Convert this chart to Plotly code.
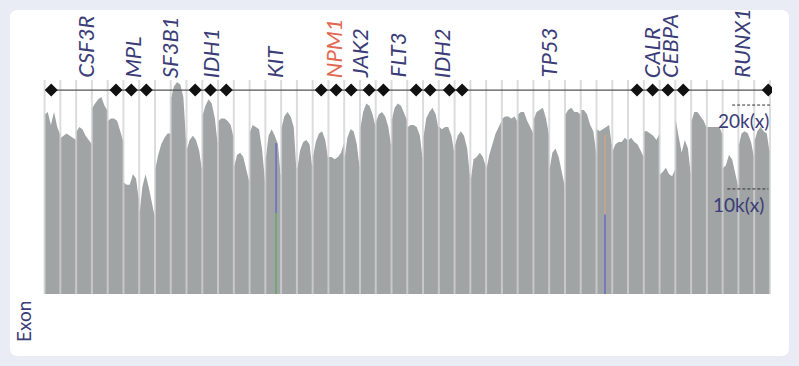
import plotly.graph_objects as go

# ---------------- data ----------------
# relative read depth (0-100 of panel height) sampled at fractions of each exon
sample_frac = [0.04, 0.2, 0.4, 0.6, 0.8, 0.96]
coverage = [
    [84, 85, 79, 85, 78, 75],   # 0
    [73, 74, 75, 74, 73, 72],
    [76, 78, 77, 74, 72, 70],
    [87, 89, 91, 92, 88, 86],
    [81, 82, 82, 81, 76, 71],
    [52, 51, 51, 56, 54, 45],   # 5
    [39, 50, 56, 50, 42, 37],
    [59, 65, 70, 73, 75, 75],
    [92, 97, 99, 98, 92, 73],
    [68, 72, 74, 72, 67, 59],
    [84, 88, 91, 89, 82, 71],   # 10
    [81, 82, 82, 81, 79, 74],
    [60, 65, 66, 64, 57, 53],
    [76, 79, 78, 77, 67, 51],
    [64, 74, 77, 74, 70, 56],
    [78, 83, 85, 83, 78, 59],   # 15
    [59, 67, 71, 72, 70, 60],
    [65, 71, 75, 76, 72, 64],
    [64, 64, 63, 64, 66, 71],
    [64, 73, 77, 76, 70, 60],
    [78, 85, 89, 88, 84, 79],   # 20
    [81, 84, 85, 83, 78, 70],
    [82, 87, 89, 88, 84, 81],
    [78, 79, 79, 78, 74, 64],
    [74, 82, 85, 87, 84, 78],
    [78, 77, 78, 78, 74, 67],   # 25
    [70, 74, 76, 74, 68, 56],
    [54, 63, 64, 66, 64, 60],
    [59, 65, 70, 75, 78, 81],
    [82, 83, 83, 82, 83, 81],
    [84, 85, 85, 81, 78, 75],   # 30
    [82, 85, 86, 87, 82, 74],
    [59, 66, 68, 64, 57, 50],
    [84, 86, 87, 85, 85, 84],
    [86, 86, 84, 79, 76, 65],
    [77, 76, 77, 78, 79, 70],   # 35
    [67, 70, 71, 71, 73, 72],
    [72, 73, 71, 70, 67, 64],
    [76, 76, 75, 74, 72, 75],
    [56, 57, 59, 56, 55, 58],
    [81, 74, 66, 72, 68, 57],   # 40
    [81, 85, 85, 83, 81, 78],
    [78, 78, 78, 78, 78, 75],
    [59, 60, 65, 63, 56, 51],
    [70, 75, 76, 75, 71, 65],
    [72, 76, 78, 76, 75, 67],   # 45
]

genes = ["CSF3R", "MPL", "SF3B1", "IDH1", "KIT", "NPM1", "JAK2",
         "FLT3", "IDH2", "TP53", "CALR", "CEBPA", "RUNX1"]
gene_pos = [2.55, 5.55, 7.9, 10.5, 14.55, 18.3, 19.95,
            22.35, 25.15, 31.9, 38.5, 39.6, 44.15]
gene_highlight = ["NPM1"]

# amplicon/target markers along the top track (exon units)
diamond_pos = [0.42, 4.53, 5.50, 6.45, 9.55, 10.52, 11.52, 17.54, 18.49, 19.44,
               20.58, 21.49, 23.56, 24.45, 25.67, 26.48, 37.57, 38.56, 39.53,
               40.50, 45.89]
diamond_level = 95.3

# variant marks: position (exon units), top, split level, colors
var_x = [14.68, 35.54]
var_top = [70.6, 74.4]
var_split = [37.9, 37.1]
var_upper_color = ["#6c70c2", "#c9a688"]
var_lower_color = ["#6aa66a", "#6c70c2"]

ref_levels = [88.3, 49.1]
ref_labels = ["20k(x)", "10k(x)"]
ref_x0 = [43.6, 43.3]
ref_x1 = [46.0, 45.9]
ref_label_x = [46.05, 45.75]
ref_label_y = [81.0, 42.0]

n_exons = len(coverage)

# ---------------- figure ----------------
fig = go.Figure()

xs, ys = [], []
for c, vals in enumerate(coverage):
    xs.append(c)
    ys.append(vals[0])
    for f, v in zip(sample_frac, vals):
        xs.append(c + f)
        ys.append(v)
    xs.append(c + 1)
    ys.append(vals[-1])

fig.add_trace(go.Scatter(
    x=xs, y=ys, mode="lines", fill="tozeroy",
    line=dict(width=0, color="#a0a4a4"), fillcolor="#a0a4a4",
    hoverinfo="skip", showlegend=False))

# exon separators
sx, sy = [], []
for b in range(n_exons + 1):
    sx += [b, b, None]
    sy += [0, 100, None]
fig.add_trace(go.Scatter(
    x=sx, y=sy, mode="lines",
    line=dict(width=2, color="rgba(210,210,210,0.78)"),
    hoverinfo="skip", showlegend=False))

# variant lines
for vx, vt, vs, cu, cl in zip(var_x, var_top, var_split, var_upper_color, var_lower_color):
    fig.add_trace(go.Scatter(x=[vx, vx], y=[vs, vt], mode="lines",
                             line=dict(width=1.6, color=cu), showlegend=False, hoverinfo="skip"))
    fig.add_trace(go.Scatter(x=[vx, vx], y=[0, vs], mode="lines",
                             line=dict(width=1.6, color=cl), showlegend=False, hoverinfo="skip"))

# diamond track
fig.add_trace(go.Scatter(x=[diamond_pos[0], diamond_pos[-1]], y=[diamond_level] * 2, mode="lines",
                         line=dict(width=1.2, color="#555555"), showlegend=False, hoverinfo="skip"))
fig.add_trace(go.Scatter(x=diamond_pos, y=[diamond_level] * len(diamond_pos), mode="markers",
                         marker=dict(symbol="diamond", size=10, color="#111111"),
                         showlegend=False, hoverinfo="skip"))

# reference lines
for lvl, x0, x1 in zip(ref_levels, ref_x0, ref_x1):
    fig.add_trace(go.Scatter(x=[x0, x1], y=[lvl, lvl], mode="lines",
                             line=dict(width=1, color="#333333", dash="3px,2px"),
                             showlegend=False, hoverinfo="skip"))

annotations = []
for lab, lx, ly in zip(ref_labels, ref_label_x, ref_label_y):
    annotations.append(dict(x=lx, y=ly, xref="x", yref="y", text=lab, showarrow=False,
                            xanchor="right", yanchor="middle",
                            font=dict(family="Lato, sans-serif", size=19, color="#3b3d78")))

for g, gx in zip(genes, gene_pos):
    col = "#e2674f" if g in gene_highlight else "#3b3d78"
    annotations.append(dict(x=gx, y=1.0, xref="x", yref="paper",
                            text="<i>" + g + "</i>", showarrow=False, textangle=-90,
                            xanchor="center", yanchor="bottom", yshift=0,
                            font=dict(family="Lato, sans-serif", size=22, color=col)))

L, T, W, H = 41, 80, 731, 214
def px(xp):
    return (xp - L) / W
def py(yp):
    return (T + H - yp) / H

annotations.append(dict(x=px(23), y=py(322), xref="paper", yref="paper", text="Exon",
                        showarrow=False, textangle=-90, xanchor="center", yanchor="middle",
                        font=dict(family="Lato, sans-serif", size=19, color="#3b3d78")))

# white rounded panel
x0p, x1p, y0p, y1p, r = 10, 789, 10, 356, 8
path = (f"M {px(x0p + r)} {py(y0p)} L {px(x1p - r)} {py(y0p)} "
        f"Q {px(x1p)} {py(y0p)} {px(x1p)} {py(y0p + r)} "
        f"L {px(x1p)} {py(y1p - r)} Q {px(x1p)} {py(y1p)} {px(x1p - r)} {py(y1p)} "
        f"L {px(x0p + r)} {py(y1p)} Q {px(x0p)} {py(y1p)} {px(x0p)} {py(y1p - r)} "
        f"L {px(x0p)} {py(y0p + r)} Q {px(x0p)} {py(y0p)} {px(x0p + r)} {py(y0p)} Z")

fig.update_layout(
    width=799, height=366,
    margin=dict(l=L, r=799 - L - W, t=T, b=366 - T - H),
    paper_bgcolor="#e9ecf5", plot_bgcolor="#f3f3f3",
    xaxis=dict(range=[-0.228, 46.13], showgrid=False, zeroline=False,
               showticklabels=False, ticks="", fixedrange=True),
    yaxis=dict(range=[0, 100], showgrid=False, zeroline=False,
               showticklabels=False, ticks="", fixedrange=True),
    shapes=[dict(type="path", path=path, xref="paper", yref="paper",
                 fillcolor="white", line=dict(width=0), layer="below")],
    annotations=annotations,
    hovermode=False,
)

fig.write_html("out.html", config={"displayModeBar": False},
               post_script="document.body.style.margin='0';document.body.style.overflow='hidden';")
